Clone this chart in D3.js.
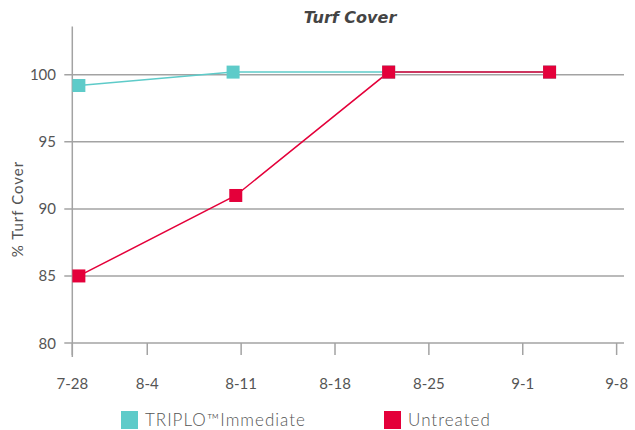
<!DOCTYPE html>
<html>
<head>
<meta charset="utf-8">
<script src="https://cdn.jsdelivr.net/npm/d3@7"></script>
<style>
  body { margin: 0; background: #fff; }
  text { font-family: Lato, "DejaVu Sans", sans-serif; fill: #555; }
</style>
</head>
<body>
<div class="chart"></div>
<script>
// days counted from 7-28
var tickDays = [1.41, 7, 14, 21, 28, 35, 42];
var tickLabels = ['7-28', '8-4', '8-11', '8-18', '8-25', '9-1', '9-8'];
var yTicks = [80, 85, 90, 95, 100];

var triploDays = [1.9, 13.4, 25, 37];
var triploValues = [99.2, 100.2, 100.2, 100.2];
var untreatedDays = [1.9, 13.6, 25, 37];
var untreatedValues = [85, 91, 100.2, 100.2];

var seriesNames = ['TRIPLO\u2122Immediate', 'Untreated'];
var colors = ['#5ecbc9', '#e4003a'];

const width = 635
const height = 430
const plotLeft = 72.3
const plotRight = 624
const plotTop = 26.5
const plotBottom = 343

let svg = d3.select('.chart')
  .append('svg')
  .attr('width', width)
  .attr('height', height)

let x = d3.scaleLinear().domain([1.41, 42.55]).range([plotLeft, plotRight])
let y = d3.scaleLinear().domain([80, 103.6]).range([plotBottom, plotTop])

// gridlines
svg.selectAll('.grid')
  .data(yTicks.slice(1))
  .enter()
  .append('line')
  .attr('x1', plotLeft - 8)
  .attr('x2', plotRight)
  .attr('y1', d => y(d))
  .attr('y2', d => y(d))
  .attr('stroke', '#a3a3a3')
  .attr('stroke-width', 1.5)

// x axis line + ticks
svg.append('line')
  .attr('x1', plotLeft - 8).attr('x2', plotRight)
  .attr('y1', y(80)).attr('y2', y(80))
  .attr('stroke', '#a3a3a3').attr('stroke-width', 1.5)

svg.selectAll('.xtick')
  .data(tickDays)
  .enter()
  .append('line')
  .attr('x1', d => x(d)).attr('x2', d => x(d))
  .attr('y1', y(80)).attr('y2', y(80) + 12)
  .attr('stroke', '#a3a3a3').attr('stroke-width', 1.5)

svg.selectAll('.xlabel')
  .data(tickDays)
  .enter()
  .append('text')
  .attr('x', d => x(d))
  .attr('y', 389)
  .attr('text-anchor', 'middle')
  .style('font-size', '15px')
  .text((d, i) => tickLabels[i])

// y axis
svg.append('line')
  .attr('x1', plotLeft).attr('x2', plotLeft)
  .attr('y1', plotTop).attr('y2', y(80) + 14)
  .attr('stroke', '#a3a3a3').attr('stroke-width', 1.5)

svg.selectAll('.ylabel')
  .data(yTicks)
  .enter()
  .append('text')
  .attr('x', 56)
  .attr('y', d => y(d) + 5.5)
  .attr('text-anchor', 'end')
  .style('font-size', '15px')
  .text(d => d)

svg.append('text')
  .attr('transform', 'translate(23,209) rotate(-90)')
  .attr('text-anchor', 'middle')
  .style('font-size', '15px')
  .style('letter-spacing', '1px')
  .text('% Turf Cover')

svg.append('text')
  .attr('x', 350)
  .attr('y', 22.5)
  .attr('text-anchor', 'middle')
  .style('font-family', '"DejaVu Sans", sans-serif')
  .style('font-size', '16px')
  .style('font-weight', 'bold')
  .style('font-style', 'italic')
  .style('fill', '#444')
  .text('Turf Cover')

// series
let series = [
  { days: triploDays, values: triploValues },
  { days: untreatedDays, values: untreatedValues }
]

let line = d3.line()
  .x(d => x(d[0]))
  .y(d => y(d[1]))

series.forEach((s, k) => {
  let pts = s.days.map((d, i) => [d, s.values[i]])
  svg.append('path')
    .attr('d', line(pts))
    .attr('fill', 'none')
    .attr('stroke', colors[k])
    .attr('stroke-width', 1.5)
})

series.forEach((s, k) => {
  let pts = s.days.map((d, i) => [d, s.values[i]])
  svg.selectAll('.m' + k)
    .data(pts)
    .enter()
    .append('rect')
    .attr('x', d => x(d[0]) - 6.5)
    .attr('y', d => y(d[1]) - 6.5)
    .attr('width', 13)
    .attr('height', 13)
    .attr('fill', colors[k])
})

// legend
let legendX = [121, 384]
seriesNames.forEach((n, k) => {
  svg.append('rect')
    .attr('x', legendX[k])
    .attr('y', 411)
    .attr('width', 17)
    .attr('height', 18)
    .attr('fill', colors[k])
  svg.append('text')
    .attr('x', legendX[k] + 24)
    .attr('y', 426)
    .style('font-size', '17px')
    .style('letter-spacing', '1px')
    .style('font-weight', 300)
    .text(n)
})
</script>
</body>
</html>
